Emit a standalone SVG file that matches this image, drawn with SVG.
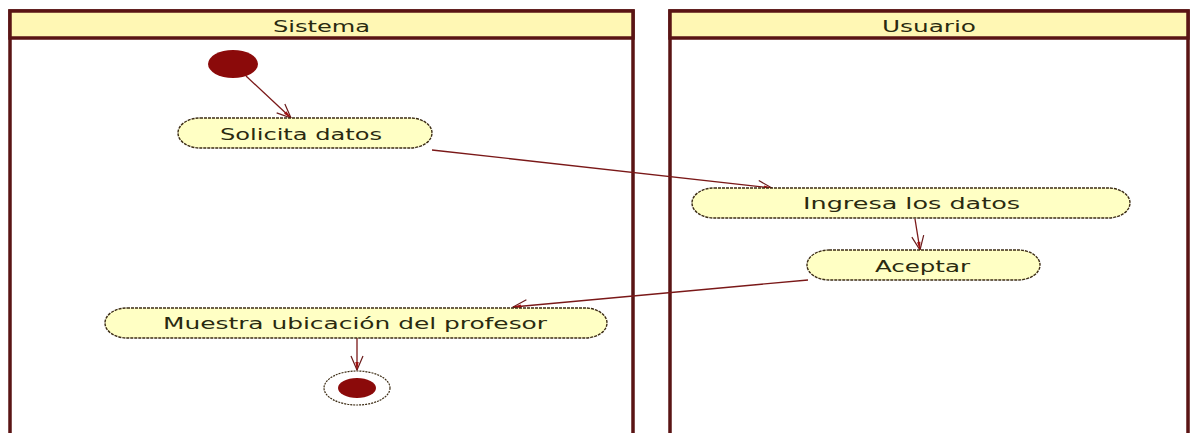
<svg xmlns="http://www.w3.org/2000/svg" width="1192" height="433" viewBox="0 0 1192 433">
<style>
.lane{fill:#ffffff;stroke:#5a1414;stroke-width:3.5}
.hdr{fill:#fff7b4;stroke:#5a1414;stroke-width:3.5}
.node{fill:#ffffc4;stroke:#3c2c14;stroke-width:1.4;stroke-dasharray:3 1}
.lbl{font-family:"DejaVu Sans",Verdana,sans-serif;font-size:16px;fill:#2a2a10}
.conn{stroke:#7a1818;stroke-width:1.3;fill:none;marker-end:url(#arr)}
</style>
<defs>
<marker id="arr" markerUnits="userSpaceOnUse" viewBox="0 0 16 14" refX="15" refY="7" markerWidth="16" markerHeight="14" orient="auto">
<path d="M1,1 L15,7 L1,13" fill="none" stroke="#6a1a1a" stroke-width="1.2"/>
<path d="M7,5.3 L15,7 L7,8.7 Z" fill="#a01010"/>
</marker>
</defs>
<rect width="1192" height="433" fill="#ffffff"/>
<g id="lane-sistema">
<rect class="lane" x="10" y="11" width="623" height="440"/>
<rect class="hdr" x="10" y="11" width="623" height="27"/>
<text class="lbl" x="321.5" y="32" text-anchor="middle" textLength="97" lengthAdjust="spacingAndGlyphs">Sistema</text>
</g>
<g id="lane-usuario">
<rect class="lane" x="670" y="11" width="518" height="440"/>
<rect class="hdr" x="670" y="11" width="518" height="27"/>
<text class="lbl" x="929" y="32" text-anchor="middle" textLength="94" lengthAdjust="spacingAndGlyphs">Usuario</text>
</g>
<g id="connectors">
<line class="conn" x1="246" y1="76" x2="291" y2="118"/>
<line class="conn" x1="432" y1="150" x2="772" y2="188"/>
<line class="conn" x1="915" y1="219" x2="920" y2="250"/>
<line class="conn" x1="808" y1="280" x2="513" y2="307"/>
<line class="conn" x1="357" y1="338" x2="357" y2="370"/>
</g>
<g id="start">
<ellipse cx="233" cy="64" rx="25" ry="14" fill="#8b0a0a"/>
</g>
<g id="solicita">
<rect class="node" x="178" y="118" width="254" height="30" rx="22" ry="15"/>
<text class="lbl" x="301" y="140" text-anchor="middle" textLength="162" lengthAdjust="spacingAndGlyphs">Solicita datos</text>
</g>
<g id="ingresa">
<rect class="node" x="692" y="188" width="438" height="30" rx="22" ry="15"/>
<text class="lbl" x="911.5" y="209" text-anchor="middle" textLength="217" lengthAdjust="spacingAndGlyphs">Ingresa los datos</text>
</g>
<g id="aceptar">
<rect class="node" x="807" y="250" width="233" height="30" rx="22" ry="15"/>
<text class="lbl" x="922.5" y="272" text-anchor="middle" textLength="95" lengthAdjust="spacingAndGlyphs">Aceptar</text>
</g>
<g id="muestra">
<rect class="node" x="105" y="308" width="502" height="30" rx="22" ry="15"/>
<text class="lbl" x="355" y="329" text-anchor="middle" textLength="384" lengthAdjust="spacingAndGlyphs">Muestra ubicación del profesor</text>
</g>
<g id="end">
<ellipse cx="357" cy="388" rx="33" ry="17" fill="#ffffff" stroke="#3c2c14" stroke-width="1.2" stroke-dasharray="2 1"/>
<ellipse cx="357" cy="388" rx="19" ry="10" fill="#8b0a0a"/>
</g>
</svg>
